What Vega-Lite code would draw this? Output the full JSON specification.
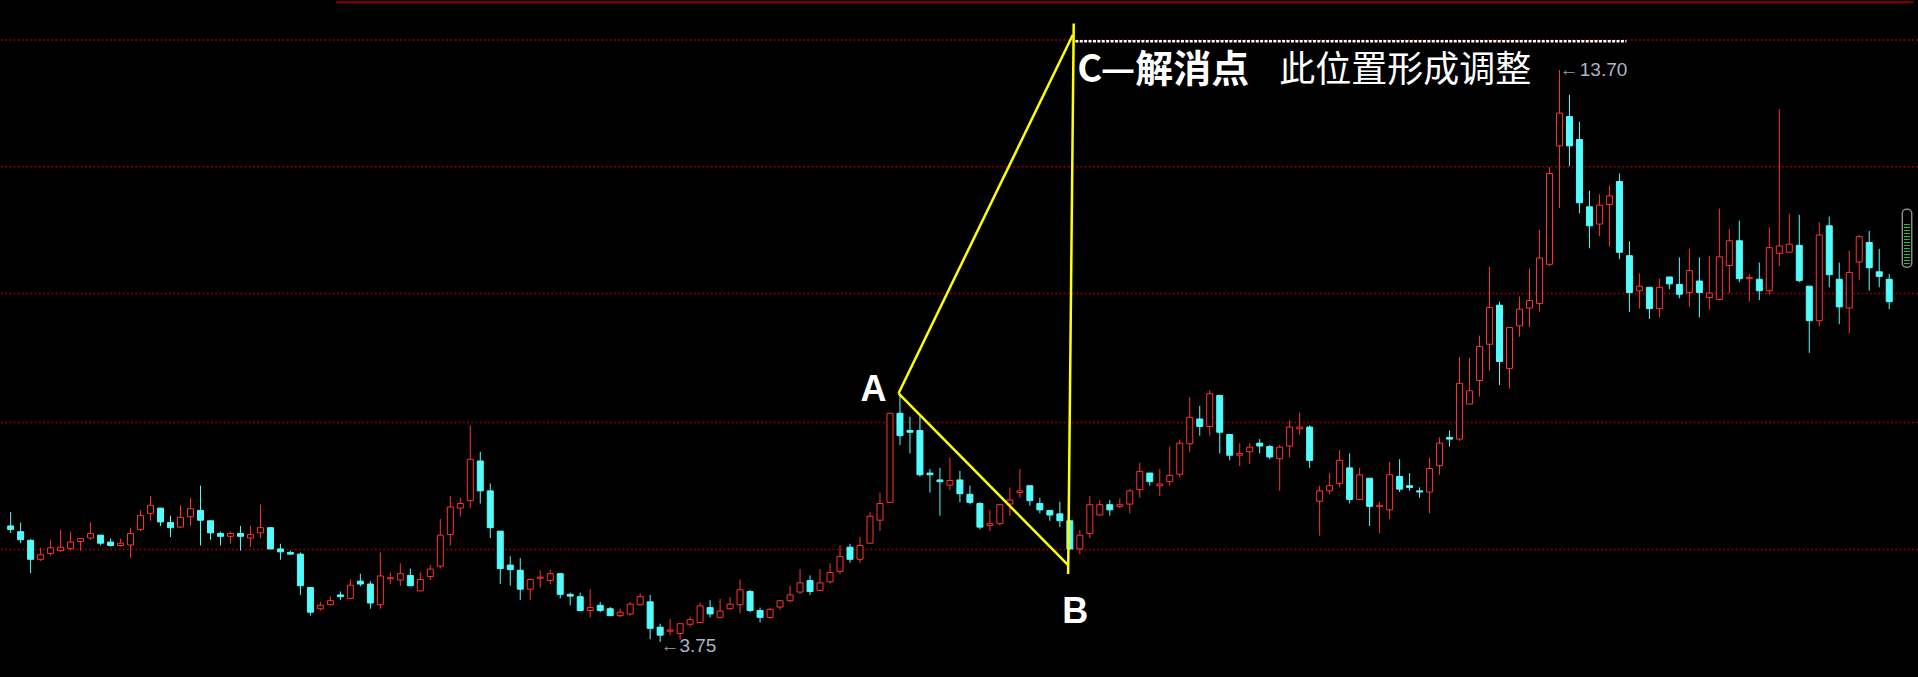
{
  "$schema": "https://vega.github.io/schema/vega-lite/v6.json",
  "width": 1918,
  "height": 677,
  "autosize": "none",
  "padding": 0,
  "background": "#000000",
  "config": {"view": {"stroke": null}},
  "datasets": {
    "k": [
      {"i":0,"o":5.77,"h":6.01,"l":5.65,"c":5.71},{"i":1,"o":5.67,"h":5.83,"l":5.47,"c":5.53},{"i":2,"o":5.52,"h":5.54,"l":4.95,"c":5.19},{"i":3,"o":5.19,"h":5.39,"l":5.16,"c":5.27},{"i":4,"o":5.29,"h":5.53,"l":5.25,"c":5.39},
      {"i":5,"o":5.34,"h":5.70,"l":5.32,"c":5.40},{"i":6,"o":5.38,"h":5.67,"l":5.34,"c":5.49},{"i":7,"o":5.50,"h":5.55,"l":5.34,"c":5.55},{"i":8,"o":5.56,"h":5.83,"l":5.53,"c":5.64},{"i":9,"o":5.61,"h":5.61,"l":5.43,"c":5.47},
      {"i":10,"o":5.49,"h":5.55,"l":5.41,"c":5.43},{"i":11,"o":5.43,"h":5.55,"l":5.41,"c":5.47},{"i":12,"o":5.44,"h":5.74,"l":5.22,"c":5.64},{"i":13,"o":5.71,"h":6.04,"l":5.68,"c":5.95},{"i":14,"o":5.99,"h":6.29,"l":5.86,"c":6.13},
      {"i":15,"o":6.08,"h":6.08,"l":5.77,"c":5.84},{"i":16,"o":5.83,"h":5.95,"l":5.58,"c":5.74},{"i":17,"o":5.75,"h":6.13,"l":5.74,"c":5.92},{"i":18,"o":5.93,"h":6.26,"l":5.77,"c":6.07},{"i":19,"o":6.04,"h":6.47,"l":5.43,"c":5.87},
      {"i":20,"o":5.86,"h":5.86,"l":5.53,"c":5.65},{"i":21,"o":5.64,"h":5.67,"l":5.43,"c":5.59},{"i":22,"o":5.59,"h":5.67,"l":5.46,"c":5.64},{"i":23,"o":5.64,"h":5.77,"l":5.34,"c":5.59},{"i":24,"o":5.56,"h":5.77,"l":5.41,"c":5.62},
      {"i":25,"o":5.65,"h":6.14,"l":5.56,"c":5.74},{"i":26,"o":5.74,"h":5.74,"l":5.37,"c":5.37},{"i":27,"o":5.37,"h":5.46,"l":5.18,"c":5.32},{"i":28,"o":5.31,"h":5.34,"l":5.27,"c":5.28},{"i":29,"o":5.28,"h":5.31,"l":4.57,"c":4.73},
      {"i":30,"o":4.70,"h":4.70,"l":4.21,"c":4.27},{"i":31,"o":4.33,"h":4.45,"l":4.30,"c":4.39},{"i":32,"o":4.40,"h":4.54,"l":4.39,"c":4.47},{"i":33,"o":4.57,"h":4.63,"l":4.48,"c":4.54},{"i":34,"o":4.51,"h":4.84,"l":4.50,"c":4.74},
      {"i":35,"o":4.81,"h":4.94,"l":4.72,"c":4.76},{"i":36,"o":4.76,"h":4.81,"l":4.33,"c":4.43},{"i":37,"o":4.40,"h":5.31,"l":4.33,"c":4.90},{"i":38,"o":4.85,"h":4.96,"l":4.76,"c":4.87},{"i":39,"o":4.83,"h":5.12,"l":4.73,"c":4.94},
      {"i":40,"o":4.91,"h":5.03,"l":4.73,"c":4.73},{"i":41,"o":4.64,"h":4.96,"l":4.64,"c":4.84},{"i":42,"o":4.89,"h":5.09,"l":4.83,"c":5.02},{"i":43,"o":5.07,"h":5.89,"l":5.03,"c":5.61},{"i":44,"o":5.62,"h":6.29,"l":5.43,"c":6.10},
      {"i":45,"o":6.08,"h":6.26,"l":5.93,"c":6.16},{"i":46,"o":6.21,"h":7.52,"l":6.08,"c":6.93},{"i":47,"o":6.90,"h":7.06,"l":6.16,"c":6.38},{"i":48,"o":6.38,"h":6.51,"l":5.56,"c":5.74},{"i":49,"o":5.68,"h":5.68,"l":4.76,"c":5.03},
      {"i":50,"o":5.09,"h":5.24,"l":4.73,"c":5.01},{"i":51,"o":5.00,"h":5.21,"l":4.48,"c":4.67},{"i":52,"o":4.67,"h":4.84,"l":4.48,"c":4.84},{"i":53,"o":4.86,"h":5.00,"l":4.70,"c":4.88},{"i":54,"o":4.82,"h":5.01,"l":4.76,"c":4.94},
      {"i":55,"o":4.94,"h":4.94,"l":4.51,"c":4.58},{"i":56,"o":4.58,"h":4.61,"l":4.39,"c":4.55},{"i":57,"o":4.54,"h":4.61,"l":4.30,"c":4.30},{"i":58,"o":4.30,"h":4.67,"l":4.18,"c":4.35},{"i":59,"o":4.39,"h":4.45,"l":4.27,"c":4.30},
      {"i":60,"o":4.33,"h":4.36,"l":4.21,"c":4.21},{"i":61,"o":4.21,"h":4.33,"l":4.18,"c":4.27},{"i":62,"o":4.24,"h":4.45,"l":4.21,"c":4.41},{"i":63,"o":4.40,"h":4.60,"l":4.39,"c":4.54},{"i":64,"o":4.45,"h":4.57,"l":3.80,"c":3.99},
      {"i":65,"o":4.01,"h":4.07,"l":3.75,"c":3.87},{"i":66,"o":3.94,"h":4.15,"l":3.87,"c":3.96},{"i":67,"o":3.90,"h":4.08,"l":3.79,"c":4.07},{"i":68,"o":4.06,"h":4.19,"l":4.02,"c":4.14},{"i":69,"o":4.09,"h":4.44,"l":4.09,"c":4.38},
      {"i":70,"o":4.35,"h":4.48,"l":4.18,"c":4.24},{"i":71,"o":4.18,"h":4.50,"l":4.18,"c":4.29},{"i":72,"o":4.33,"h":4.53,"l":4.32,"c":4.41},{"i":73,"o":4.40,"h":4.84,"l":4.25,"c":4.66},{"i":74,"o":4.63,"h":4.66,"l":4.27,"c":4.30},
      {"i":75,"o":4.30,"h":4.35,"l":4.09,"c":4.18},{"i":76,"o":4.18,"h":4.35,"l":4.15,"c":4.32},{"i":77,"o":4.36,"h":4.48,"l":4.31,"c":4.47},{"i":78,"o":4.47,"h":4.73,"l":4.44,"c":4.57},{"i":79,"o":4.62,"h":5.02,"l":4.59,"c":4.78},
      {"i":80,"o":4.82,"h":4.91,"l":4.57,"c":4.63},{"i":81,"o":4.65,"h":5.02,"l":4.65,"c":4.78},{"i":82,"o":4.80,"h":5.12,"l":4.77,"c":4.96},{"i":83,"o":4.98,"h":5.43,"l":4.93,"c":5.24},{"i":84,"o":5.40,"h":5.46,"l":5.13,"c":5.19},
      {"i":85,"o":5.19,"h":5.58,"l":5.13,"c":5.43},{"i":86,"o":5.47,"h":6.01,"l":5.46,"c":5.94},{"i":87,"o":5.87,"h":6.35,"l":5.68,"c":6.16},{"i":88,"o":6.18,"h":7.73,"l":6.18,"c":7.73},{"i":89,"o":7.73,"h":8.08,"l":7.18,"c":7.34},
      {"i":90,"o":7.43,"h":7.67,"l":7.03,"c":7.40},{"i":91,"o":7.43,"h":7.68,"l":6.63,"c":6.66},{"i":92,"o":6.69,"h":6.76,"l":6.35,"c":6.66},{"i":93,"o":6.57,"h":6.78,"l":5.95,"c":6.54},{"i":94,"o":6.48,"h":6.96,"l":6.39,"c":6.56},
      {"i":95,"o":6.57,"h":6.73,"l":6.18,"c":6.33},{"i":96,"o":6.32,"h":6.47,"l":6.15,"c":6.18},{"i":97,"o":6.16,"h":6.18,"l":5.71,"c":5.75},{"i":98,"o":5.78,"h":6.05,"l":5.68,"c":5.81},{"i":99,"o":5.81,"h":6.14,"l":5.78,"c":6.14},
      {"i":100,"o":6.15,"h":6.44,"l":5.95,"c":6.22},{"i":101,"o":6.35,"h":6.76,"l":6.26,"c":6.38},{"i":102,"o":6.47,"h":6.47,"l":6.12,"c":6.21},{"i":103,"o":6.16,"h":6.26,"l":5.99,"c":6.05},{"i":104,"o":6.04,"h":6.05,"l":5.86,"c":5.96},
      {"i":105,"o":5.98,"h":6.19,"l":5.75,"c":5.86},{"i":106,"o":5.86,"h":5.87,"l":5.35,"c":5.37},{"i":107,"o":5.37,"h":5.70,"l":5.28,"c":5.61},{"i":108,"o":5.64,"h":6.29,"l":5.56,"c":6.14},{"i":109,"o":5.96,"h":6.22,"l":5.95,"c":6.14},
      {"i":110,"o":6.14,"h":6.22,"l":5.95,"c":6.05},{"i":111,"o":6.11,"h":6.25,"l":6.08,"c":6.14},{"i":112,"o":6.15,"h":6.41,"l":5.99,"c":6.38},{"i":113,"o":6.40,"h":6.87,"l":6.26,"c":6.72},{"i":114,"o":6.69,"h":6.69,"l":6.47,"c":6.54},
      {"i":115,"o":6.47,"h":6.76,"l":6.29,"c":6.50},{"i":116,"o":6.54,"h":7.15,"l":6.47,"c":6.65},{"i":117,"o":6.67,"h":7.27,"l":6.61,"c":7.21},{"i":118,"o":7.20,"h":8.01,"l":7.06,"c":7.66},{"i":119,"o":7.63,"h":7.86,"l":7.34,"c":7.50},
      {"i":120,"o":7.50,"h":8.13,"l":7.34,"c":8.07},{"i":121,"o":8.04,"h":8.05,"l":7.03,"c":7.40},{"i":122,"o":7.36,"h":7.36,"l":6.91,"c":7.00},{"i":123,"o":7.00,"h":7.21,"l":6.81,"c":7.03},{"i":124,"o":7.06,"h":7.21,"l":6.85,"c":7.14},
      {"i":125,"o":7.21,"h":7.28,"l":7.03,"c":7.16},{"i":126,"o":7.15,"h":7.18,"l":6.93,"c":6.97},{"i":127,"o":6.94,"h":7.18,"l":6.38,"c":7.14},{"i":128,"o":7.16,"h":7.61,"l":6.96,"c":7.49},{"i":129,"o":7.46,"h":7.74,"l":7.36,"c":7.49},
      {"i":130,"o":7.49,"h":7.52,"l":6.78,"c":6.91},{"i":131,"o":6.20,"h":6.47,"l":5.60,"c":6.38},{"i":132,"o":6.38,"h":6.69,"l":6.32,"c":6.47},{"i":133,"o":6.51,"h":7.09,"l":6.44,"c":6.91},{"i":134,"o":6.78,"h":7.03,"l":6.16,"c":6.23},
      {"i":135,"o":6.23,"h":6.78,"l":6.23,"c":6.66},{"i":136,"o":6.60,"h":6.60,"l":5.77,"c":6.11},{"i":137,"o":6.11,"h":6.19,"l":5.64,"c":6.13},{"i":138,"o":6.05,"h":6.88,"l":5.89,"c":6.66},{"i":139,"o":6.63,"h":6.93,"l":6.36,"c":6.41},
      {"i":140,"o":6.47,"h":6.69,"l":6.38,"c":6.44},{"i":141,"o":6.38,"h":6.44,"l":6.26,"c":6.36},{"i":142,"o":6.36,"h":6.96,"l":5.99,"c":6.77},{"i":143,"o":6.82,"h":7.31,"l":6.66,"c":7.21},{"i":144,"o":7.31,"h":7.43,"l":7.15,"c":7.28},
      {"i":145,"o":7.28,"h":8.71,"l":7.25,"c":8.25},{"i":146,"o":7.89,"h":8.69,"l":7.89,"c":8.12},{"i":147,"o":8.30,"h":9.08,"l":8.02,"c":8.89},{"i":148,"o":8.93,"h":10.28,"l":8.47,"c":9.57},{"i":149,"o":9.61,"h":9.67,"l":8.22,"c":8.63},
      {"i":150,"o":8.51,"h":9.22,"l":8.16,"c":9.22},{"i":151,"o":9.25,"h":9.76,"l":9.06,"c":9.54},{"i":152,"o":9.56,"h":10.25,"l":9.23,"c":9.69},{"i":153,"o":9.64,"h":10.92,"l":9.50,"c":10.43},{"i":154,"o":10.32,"h":12.01,"l":10.29,"c":11.90},
      {"i":155,"o":12.38,"h":13.70,"l":11.30,"c":12.95},{"i":156,"o":12.89,"h":13.27,"l":12.03,"c":12.38},{"i":157,"o":12.49,"h":12.80,"l":11.21,"c":11.39},{"i":158,"o":11.32,"h":11.60,"l":10.60,"c":10.99},{"i":159,"o":11.02,"h":11.54,"l":10.81,"c":11.35},
      {"i":160,"o":11.36,"h":11.69,"l":10.63,"c":11.51},{"i":161,"o":11.76,"h":11.90,"l":10.41,"c":10.53},{"i":162,"o":10.47,"h":10.72,"l":9.49,"c":9.83},{"i":163,"o":9.86,"h":10.16,"l":9.55,"c":9.94},{"i":164,"o":9.92,"h":9.93,"l":9.37,"c":9.55},
      {"i":165,"o":9.55,"h":10.07,"l":9.40,"c":9.92},{"i":166,"o":10.10,"h":10.10,"l":9.89,"c":9.98},{"i":167,"o":9.97,"h":10.44,"l":9.73,"c":9.80},{"i":168,"o":9.83,"h":10.59,"l":9.58,"c":10.21},{"i":169,"o":10.03,"h":10.44,"l":9.40,"c":9.83},
      {"i":170,"o":9.74,"h":10.47,"l":9.53,"c":9.82},{"i":171,"o":9.71,"h":11.29,"l":9.69,"c":10.45},{"i":172,"o":10.30,"h":10.93,"l":9.82,"c":10.73},{"i":173,"o":10.73,"h":11.08,"l":10.01,"c":10.07},{"i":174,"o":10.07,"h":10.15,"l":9.67,"c":10.09},
      {"i":175,"o":10.06,"h":10.35,"l":9.70,"c":9.86},{"i":176,"o":9.86,"h":10.96,"l":9.80,"c":10.61},{"i":177,"o":10.51,"h":13.02,"l":10.29,"c":10.64},{"i":178,"o":10.53,"h":11.20,"l":10.53,"c":10.67},{"i":179,"o":10.65,"h":11.18,"l":10.01,"c":10.04},
      {"i":180,"o":9.94,"h":9.94,"l":8.78,"c":9.34},{"i":181,"o":9.34,"h":11.05,"l":9.24,"c":10.83},{"i":182,"o":10.99,"h":11.15,"l":9.92,"c":10.14},{"i":183,"o":10.06,"h":10.35,"l":9.28,"c":9.58},{"i":184,"o":9.56,"h":10.56,"l":9.12,"c":10.18},
      {"i":185,"o":10.36,"h":10.83,"l":10.05,"c":10.80},{"i":186,"o":10.70,"h":10.90,"l":9.86,"c":10.26},{"i":187,"o":10.19,"h":10.59,"l":9.92,"c":10.11},{"i":188,"o":10.06,"h":10.15,"l":9.54,"c":9.67}
    ],
    "grid": [{"p":14.222},{"p":12.018},{"p":9.813},{"p":7.570},{"p":5.359}],
    "frame": [{"i1":32.6,"i2":190.4,"p":14.879}],
    "abc": [
      {"i1":88.86,"p1":8.077,"i2":106.29,"p2":14.309},
      {"i1":88.86,"p1":8.077,"i2":105.83,"p2":5.09},
      {"i1":106.39,"p1":14.51,"i2":105.83,"p2":4.935}
    ],
    "level": [{"i1":106.55,"i2":161.7,"p":14.2}],
    "points": [{"t":"A","i":86.34,"p":7.949},{"t":"B","i":106.55,"p":4.077}],
    "title": [{"t":"C—解消点","i":106.75,"p":13.491}],
    "note": [{"t":"此位置形成调整","i":126.96,"p":13.491}],
    "arrows": [{"t":"←","i":155.01,"p":13.596},{"t":"←","i":65.04,"p":3.583}],
    "marks": [{"t":"13.70","i":157.03,"p":13.596},{"t":"3.75","i":66.93,"p":3.583}],
    "scroll": [{"i1":189.31,"i2":190.25,"p1":11.277,"p2":10.269,"im":189.78,"q1":11.022,"q2":10.309}]
  },
  "layer": [
    {
      "data": {"name": "grid"},
      "mark": {"type": "rule", "stroke": "#9a0000", "strokeWidth": 1.5, "strokeDash": [1.8, 2.4]},
      "encoding": {
        "y": {"field": "p", "type": "quantitative", "axis": null, "scale": {"domain": [3.143, 14.917], "nice": false, "zero": false}}
      }
    },
    {
      "data": {"name": "frame"},
      "mark": {"type": "rule", "stroke": "#8b0000", "strokeWidth": 2},
      "encoding": {
        "x": {"field": "i1", "type": "quantitative", "axis": null, "scale": {"domain": [-0.564, 190.38], "nice": false, "zero": false}},
        "x2": {"field": "i2"},
        "y": {"field": "p", "type": "quantitative", "axis": null, "scale": {"domain": [3.143, 14.917], "nice": false, "zero": false}}
      }
    },
    {
      "data": {"name": "k"},
      "mark": {"type": "rule", "strokeWidth": 1},
      "encoding": {
        "x": {"field": "i", "type": "quantitative", "axis": null, "scale": {"domain": [-0.564, 190.38], "nice": false, "zero": false}},
        "y": {"field": "l", "type": "quantitative", "axis": null, "scale": {"domain": [3.143, 14.917], "nice": false, "zero": false}},
        "y2": {"field": "h"},
        "stroke": {"condition": {"test": "datum.c > datum.o", "value": "#ff3232"}, "value": "#54fcfc"}
      }
    },
    {
      "data": {"name": "k"},
      "mark": {"type": "bar", "width": 6, "strokeWidth": 1},
      "encoding": {
        "x": {"field": "i", "type": "quantitative", "axis": null, "scale": {"domain": [-0.564, 190.38], "nice": false, "zero": false}},
        "y": {"field": "o", "type": "quantitative", "axis": null, "scale": {"domain": [3.143, 14.917], "nice": false, "zero": false}},
        "y2": {"field": "c"},
        "fill": {"condition": {"test": "datum.c > datum.o", "value": "#000000"}, "value": "#54fcfc"},
        "stroke": {"condition": {"test": "datum.c > datum.o", "value": "#ff3232"}, "value": "#54fcfc"}
      }
    },
    {
      "data": {"name": "level"},
      "mark": {"type": "rule", "stroke": "#ffffff", "strokeWidth": 2.6, "strokeDash": [3, 1.4]},
      "encoding": {
        "x": {"field": "i1", "type": "quantitative", "axis": null, "scale": {"domain": [-0.564, 190.38], "nice": false, "zero": false}},
        "x2": {"field": "i2"},
        "y": {"field": "p", "type": "quantitative", "axis": null, "scale": {"domain": [3.143, 14.917], "nice": false, "zero": false}}
      }
    },
    {
      "data": {"name": "abc"},
      "mark": {"type": "rule", "stroke": "#ffff00", "strokeWidth": 2.5},
      "encoding": {
        "x": {"field": "i1", "type": "quantitative", "axis": null, "scale": {"domain": [-0.564, 190.38], "nice": false, "zero": false}},
        "x2": {"field": "i2"},
        "y": {"field": "p1", "type": "quantitative", "axis": null, "scale": {"domain": [3.143, 14.917], "nice": false, "zero": false}},
        "y2": {"field": "p2"}
      }
    },
    {
      "data": {"name": "points"},
      "mark": {"type": "text", "font": "Liberation Sans", "fontWeight": "bold", "fontSize": 36, "fill": "#ffffff", "align": "center", "baseline": "alphabetic"},
      "encoding": {
        "x": {"field": "i", "type": "quantitative", "axis": null, "scale": {"domain": [-0.564, 190.38], "nice": false, "zero": false}},
        "y": {"field": "p", "type": "quantitative", "axis": null, "scale": {"domain": [3.143, 14.917], "nice": false, "zero": false}},
        "text": {"field": "t"}
      }
    },
    {
      "data": {"name": "title"},
      "mark": {"type": "text", "font": "Noto Sans CJK SC", "fontWeight": "bold", "fontSize": 38, "fill": "#ffffff", "align": "left", "baseline": "alphabetic"},
      "encoding": {
        "x": {"field": "i", "type": "quantitative", "axis": null, "scale": {"domain": [-0.564, 190.38], "nice": false, "zero": false}},
        "y": {"field": "p", "type": "quantitative", "axis": null, "scale": {"domain": [3.143, 14.917], "nice": false, "zero": false}},
        "text": {"field": "t"}
      }
    },
    {
      "data": {"name": "note"},
      "mark": {"type": "text", "font": "Noto Sans CJK SC", "fontWeight": "normal", "fontSize": 36, "fill": "#ffffff", "align": "left", "baseline": "alphabetic"},
      "encoding": {
        "x": {"field": "i", "type": "quantitative", "axis": null, "scale": {"domain": [-0.564, 190.38], "nice": false, "zero": false}},
        "y": {"field": "p", "type": "quantitative", "axis": null, "scale": {"domain": [3.143, 14.917], "nice": false, "zero": false}},
        "text": {"field": "t"}
      }
    },
    {
      "data": {"name": "arrows"},
      "mark": {"type": "text", "font": "Liberation Sans", "fontSize": 19, "fill": "#9a9a9a", "align": "left", "baseline": "alphabetic"},
      "encoding": {
        "x": {"field": "i", "type": "quantitative", "axis": null, "scale": {"domain": [-0.564, 190.38], "nice": false, "zero": false}},
        "y": {"field": "p", "type": "quantitative", "axis": null, "scale": {"domain": [3.143, 14.917], "nice": false, "zero": false}},
        "text": {"field": "t"}
      }
    },
    {
      "data": {"name": "marks"},
      "mark": {"type": "text", "font": "'Liberation Sans Narrow', 'Liberation Sans', sans-serif", "fontSize": 19, "fill": "#aab6c8", "align": "left", "baseline": "alphabetic"},
      "encoding": {
        "x": {"field": "i", "type": "quantitative", "axis": null, "scale": {"domain": [-0.564, 190.38], "nice": false, "zero": false}},
        "y": {"field": "p", "type": "quantitative", "axis": null, "scale": {"domain": [3.143, 14.917], "nice": false, "zero": false}},
        "text": {"field": "t"}
      }
    },
    {
      "data": {"name": "scroll"},
      "mark": {"type": "rect", "fill": null, "stroke": "#8a8a8a", "strokeWidth": 1.5, "cornerRadius": 4},
      "encoding": {
        "x": {"field": "i1", "type": "quantitative", "axis": null, "scale": {"domain": [-0.564, 190.38], "nice": false, "zero": false}},
        "x2": {"field": "i2"},
        "y": {"field": "p1", "type": "quantitative", "axis": null, "scale": {"domain": [3.143, 14.917], "nice": false, "zero": false}},
        "y2": {"field": "p2"}
      }
    },
    {
      "data": {"name": "scroll"},
      "mark": {"type": "rule", "stroke": "#22c040", "strokeWidth": 6, "strokeDash": [1, 2]},
      "encoding": {
        "x": {"field": "im", "type": "quantitative", "axis": null, "scale": {"domain": [-0.564, 190.38], "nice": false, "zero": false}},
        "y": {"field": "q1", "type": "quantitative", "axis": null, "scale": {"domain": [3.143, 14.917], "nice": false, "zero": false}},
        "y2": {"field": "q2"}
      }
    }
  ]
}
